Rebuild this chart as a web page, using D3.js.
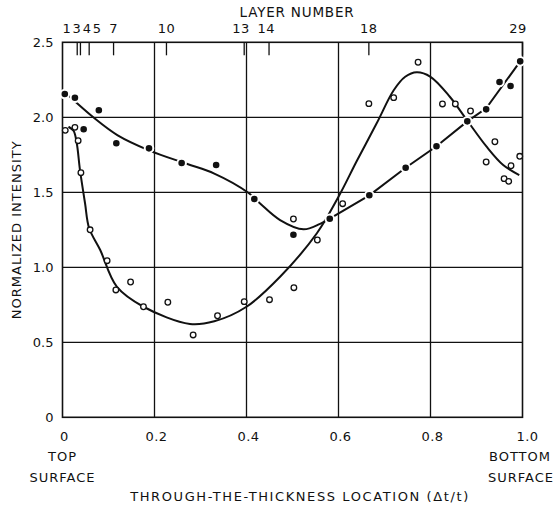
<!DOCTYPE html>
<html>
<head>
<meta charset="utf-8">
<script src="https://cdn.jsdelivr.net/npm/d3@7"></script>
<style>
  body { margin: 0; background: #fff; }
  svg text { font-family: "DejaVu Sans", sans-serif; fill: #111; }
</style>
</head>
<body>
<div id="chart"></div>
<script>
// measured points, solid circles
const solidX = [0.005, 0.027, 0.046, 0.079, 0.117, 0.188, 0.259, 0.334, 0.417, 0.502, 0.581, 0.667, 0.746, 0.813, 0.88, 0.921, 0.95, 0.974, 0.995];
const solidY = [2.155, 2.13, 1.92, 2.047, 1.827, 1.793, 1.695, 1.682, 1.455, 1.217, 1.324, 1.48, 1.664, 1.807, 1.973, 2.053, 2.235, 2.209, 2.373];

// measured points, open circles
const openX = [0.006, 0.027, 0.034, 0.040, 0.060, 0.097, 0.116, 0.148, 0.176, 0.229, 0.284, 0.337, 0.395, 0.45, 0.503, 0.502, 0.554, 0.609, 0.666, 0.72, 0.773, 0.826, 0.854, 0.887, 0.94, 0.921, 0.975, 0.994, 0.96, 0.97];
const openY = [1.913, 1.933, 1.844, 1.631, 1.25, 1.044, 0.849, 0.902, 0.737, 0.767, 0.549, 0.677, 0.771, 0.784, 0.864, 1.322, 1.182, 1.424, 2.091, 2.131, 2.367, 2.089, 2.089, 2.042, 1.837, 1.702, 1.677, 1.74, 1.591, 1.573];

// fitted curve through the solid points (smooth part, then point to point)
const solidCurveX = [0.013, 0.067, 0.12, 0.188, 0.27, 0.33, 0.404, 0.429, 0.473, 0.524, 0.56, 0.581];
const solidCurveY = [2.145, 2.0, 1.88, 1.78, 1.69, 1.625, 1.497, 1.427, 1.315, 1.253, 1.29, 1.324];
const solidLinkX = [0.581, 0.667, 0.746, 0.813, 0.88, 0.921, 0.995];
const solidLinkY = [1.324, 1.48, 1.664, 1.807, 1.973, 2.06, 2.373];

// fitted curve through the open points
const openCurveX = [0.013, 0.024, 0.031, 0.038, 0.049, 0.058, 0.082, 0.118, 0.176, 0.277, 0.33, 0.40, 0.473, 0.553, 0.60, 0.64, 0.683, 0.72, 0.745, 0.77, 0.80, 0.842, 0.879, 0.922, 0.958, 0.993];
const openCurveY = [1.937, 1.91, 1.827, 1.649, 1.427, 1.26, 1.115, 0.871, 0.737, 0.622, 0.64, 0.737, 0.937, 1.227, 1.47, 1.71, 1.96, 2.18, 2.27, 2.30, 2.27, 2.137, 1.982, 1.804, 1.682, 1.615];

const xTicks = [0, 0.2, 0.4, 0.6, 0.8, 1.0];
const xTickLabels = ["0", "0.2", "0.4", "0.6", "0.8", "1.0"];
const yTicks = [0, 0.5, 1.0, 1.5, 2.0, 2.5];
const yTickLabels = ["0", "0.5", "1.0", "1.5", "2.0", "2.5"];

// layer number marks along the top
const layerX = [0.032, 0.039, 0.058, 0.111, 0.226, 0.395, 0.449, 0.666, 1.0];
const layerLabels = ["1345", "7", "10", "13", "14", "18", "29"];
const layerLabelX = [0, 0.111, 0.226, 0.388, 0.443, 0.666, 0.99];

const svg = d3.select('#chart').append('svg').attr('width', 553).attr('height', 505);

const x = d3.scaleLinear().domain([0, 1]).range([62.5, 522.5]);
const y = d3.scaleLinear().domain([0, 2.5]).range([417.3, 42.3]);

const ink = '#111';

// grid
svg.append('g').selectAll('line').data(xTicks.slice(1, -1)).enter().append('line')
    .attr('x1', d => x(d)).attr('x2', d => x(d))
    .attr('y1', y(0)).attr('y2', y(2.5))
    .style('stroke', ink).style('stroke-width', 1.3);

svg.append('g').selectAll('line').data(yTicks.slice(1, -1)).enter().append('line')
    .attr('x1', x(0)).attr('x2', x(1))
    .attr('y1', d => y(d)).attr('y2', d => y(d))
    .style('stroke', ink).style('stroke-width', 1.3);

// frame
svg.append('rect')
    .attr('x', x(0)).attr('y', y(2.5))
    .attr('width', x(1) - x(0)).attr('height', y(0) - y(2.5))
    .style('fill', 'none').style('stroke', ink).style('stroke-width', 1.6);

// layer ticks
svg.append('g').selectAll('line').data(layerX).enter().append('line')
    .attr('x1', d => x(d)).attr('x2', d => x(d))
    .attr('y1', y(2.5)).attr('y2', y(2.5) + 13)
    .style('stroke', ink).style('stroke-width', 1.3);

svg.append('g').selectAll('text').data(layerLabels).enter().append('text')
    .attr('x', (d, i) => x(layerLabelX[i]))
    .attr('y', 32.5)
    .attr('text-anchor', (d, i) => i === 0 ? 'start' : 'middle')
    .style('font-size', '13px')
    .style('letter-spacing', (d, i) => i === 0 ? '1.8px' : '0.5px')
    .text(d => d);

svg.append('text')
    .attr('x', 297).attr('y', 17)
    .attr('text-anchor', 'middle')
    .style('font-size', '13.5px').style('letter-spacing', '0.8px')
    .text('LAYER NUMBER');

// y tick labels
svg.append('g').selectAll('text').data(yTicks).enter().append('text')
    .attr('x', x(0) - 9)
    .attr('y', d => y(d) + 4.5)
    .attr('text-anchor', 'end')
    .style('font-size', '13px')
    .text((d, i) => yTickLabels[i]);

// x tick labels
svg.append('g').selectAll('text').data(xTicks).enter().append('text')
    .attr('x', d => x(d) + (d === 1 ? 5 : 2))
    .attr('y', 440.5)
    .attr('text-anchor', 'middle')
    .style('font-size', '13px')
    .style('letter-spacing', '0.5px')
    .text((d, i) => xTickLabels[i]);

const smallCaps = [
    { t: 'TOP', cx: x(0), cy: 460.5 },
    { t: 'SURFACE', cx: x(0), cy: 482 },
    { t: 'BOTTOM', cx: 520, cy: 460.5 },
    { t: 'SURFACE', cx: 521, cy: 482 }
];
svg.append('g').selectAll('text').data(smallCaps).enter().append('text')
    .attr('x', d => d.cx).attr('y', d => d.cy)
    .attr('text-anchor', 'middle')
    .style('font-size', '13px').style('letter-spacing', '1px')
    .text(d => d.t);

svg.append('text')
    .attr('x', 300).attr('y', 501)
    .attr('text-anchor', 'middle')
    .style('font-size', '13px').style('letter-spacing', '1.6px')
    .text('THROUGH-THE-THICKNESS LOCATION (\u0394t/t)');

svg.append('text')
    .attr('transform', `translate(21,${(y(0) + y(2.5)) / 2}) rotate(-90)`)
    .attr('text-anchor', 'middle')
    .style('font-size', '13px').style('letter-spacing', '1px')
    .text('NORMALIZED INTENSITY');

// curves
const line = d3.line()
    .x(d => x(d[0]))
    .y(d => y(d[1]))
    .curve(d3.curveCatmullRom.alpha(0.5));

const linkLine = d3.line()
    .x(d => x(d[0]))
    .y(d => y(d[1]));

function drawPath(gen, xs, ys) {
    svg.append('path')
        .datum(xs.map((v, i) => [v, ys[i]]))
        .attr('d', gen)
        .style('fill', 'none')
        .style('stroke', ink)
        .style('stroke-width', 2);
}

drawPath(line, openCurveX, openCurveY);
drawPath(line, solidCurveX, solidCurveY);
drawPath(linkLine, solidLinkX, solidLinkY);

// points
svg.append('g').selectAll('circle').data(openX).enter().append('circle')
    .attr('cx', d => x(d))
    .attr('cy', (d, i) => y(openY[i]))
    .attr('r', 2.8)
    .style('fill', '#fff')
    .style('stroke', ink)
    .style('stroke-width', 1.3);

svg.append('g').selectAll('circle').data(solidX).enter().append('circle')
    .attr('cx', d => x(d))
    .attr('cy', (d, i) => y(solidY[i]))
    .attr('r', 4.3)
    .style('fill', ink)
    .style('stroke', '#fff')
    .style('stroke-width', 2);
</script>
</body>
</html>
